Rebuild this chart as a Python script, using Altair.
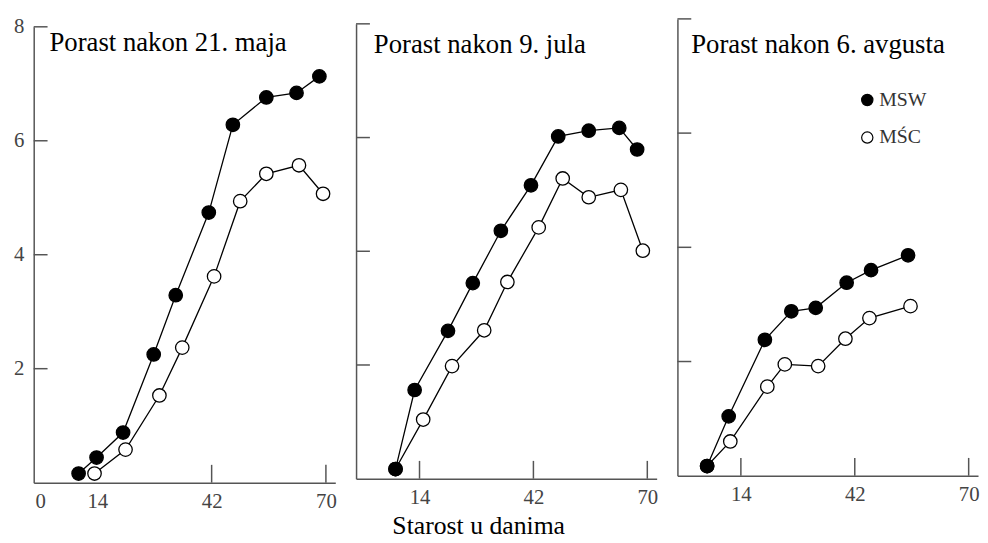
import altair as alt
import pandas as pd

# ---------------- data ----------------
SERIES = ["MSW", "MŚC"]

titles = ["Porast nakon 21. maja", "Porast nakon 9. jula", "Porast nakon 6. avgusta"]

# Panel 1 - 21. maja
p1_msw_days = [9.4, 13.8, 20.3, 27.8, 33.2, 41.3, 47.2, 55.4, 62.8, 68.4]
p1_msw_vals = [0.16, 0.44, 0.88, 2.25, 3.29, 4.74, 6.28, 6.76, 6.84, 7.13]
p1_msc_days = [13.3, 20.9, 29.2, 34.8, 42.6, 49.0, 55.4, 63.4, 69.3]
p1_msc_vals = [0.16, 0.58, 1.53, 2.37, 3.62, 4.94, 5.42, 5.57, 5.07]

# Panel 2 - 9. jula
p2_msw_days = [8.1, 12.8, 21.0, 27.1, 34.0, 41.4, 48.1, 55.6, 63.1, 67.5]
p2_msw_vals = [0.17, 1.56, 2.60, 3.44, 4.36, 5.16, 6.02, 6.12, 6.17, 5.79]
p2_msc_days = [8.1, 14.9, 22.0, 29.9, 35.6, 43.3, 49.2, 55.6, 63.5, 68.9]
p2_msc_vals = [0.17, 1.04, 1.98, 2.61, 3.46, 4.42, 5.28, 4.95, 5.08, 4.01]

# Panel 3 - 6. avgusta
p3_msw_days = [5.7, 11.0, 19.9, 26.4, 32.4, 40.0, 46.0, 55.1]
p3_msw_vals = [0.17, 1.04, 2.38, 2.88, 2.94, 3.38, 3.60, 3.86]
p3_msc_days = [5.7, 11.4, 20.5, 24.8, 33.0, 39.7, 45.6, 55.7]
p3_msc_vals = [0.17, 0.60, 1.56, 1.95, 1.92, 2.40, 2.76, 2.97]

y_ticks = [2, 4, 6, 8]
x_labels_first = [0, 14, 42, 70]
x_labels_other = [14, 42, 70]
x_ticks_first = [42, 70]
x_ticks_other = [14, 42, 70]

x_title = "Starost u danima"

# ---------------- styling / layout ----------------
FONT = "Liberation Serif"
W = [305, 304, 304]
H = 469
# vertical placement of each panel's 0..8 range inside the view (the scanned
# panels sit at slightly different heights)
R_TOP = [8, 5, 0]
R_BOT = [469, 465, 462]
TEXT_X = [16, 18, 14]
TEXT_Y = [32, 34, 34]
AX = "#555555"
LAB = "#444444"


def make_panel(i, title, msw_d, msw_v, msc_d, msc_v, first, legend):
    rows = []
    for d, v in zip(msc_d, msc_v):
        rows.append({"day": d, "value": v, "series": "MŚC"})
    for d, v in zip(msw_d, msw_v):
        rows.append({"day": d, "value": v, "series": "MSW"})
    df = pd.DataFrame(rows)

    xs = alt.Scale(domain=[-1.6, 72.3], nice=False, zero=False)
    ys = alt.Scale(domain=[0, 8], nice=False, zero=False, range=[R_BOT[i], R_TOP[i]])

    x_axis = alt.Axis(
        values=x_labels_first if first else x_labels_other,
        ticks=False, grid=False, title=None,
        labelFont=FONT, labelFontSize=21, labelColor=LAB,
        labelPadding=8, labelFlush=False, labelOverlap=False,
        domainColor=AX, domainWidth=1.5, offset=R_BOT[i] - H,
    )
    if first:
        y_axis = alt.Axis(
            values=y_ticks, ticks=False, grid=False, title=None,
            labelFont=FONT, labelFontSize=21, labelColor=LAB,
            labelPadding=10, minExtent=26, maxExtent=26,
            domainColor=AX, domainWidth=1.5,
        )
    else:
        y_axis = alt.Axis(
            values=y_ticks, ticks=False, labels=False, grid=False, title=None,
            minExtent=0, maxExtent=0,
            domainColor=AX, domainWidth=1.5,
        )

    X = alt.X("day:Q", scale=xs, axis=x_axis)
    Y = alt.Y("value:Q", scale=ys, axis=y_axis)

    base = alt.Chart(df)
    lines = base.mark_line(color="black", strokeWidth=1.3).encode(
        x=X, y=Y, detail="series:N"
    )
    if legend:
        leg = alt.Legend(
            orient="none", legendX=182, legendY=72, title=None,
            direction="vertical", symbolType="circle", symbolSize=130,
            symbolStrokeColor="black", symbolStrokeWidth=1.2, symbolOpacity=1,
            labelFont=FONT, labelFontSize=20, labelColor="#333333",
            labelOffset=2, rowPadding=18, padding=0,
        )
    else:
        leg = None
    points = base.mark_point(
        filled=True, stroke="black", strokeWidth=1.3, size=185, opacity=1
    ).encode(
        x=X, y=Y,
        fill=alt.Fill("series:N", scale=alt.Scale(domain=SERIES, range=["black", "white"]),
                      legend=leg),
    )

    ytick_df = pd.DataFrame({"tick": y_ticks})
    yt = alt.Chart(ytick_df).mark_rule(color=AX, strokeWidth=1.5).encode(
        y=alt.Y("tick:Q", scale=ys, axis=y_axis), x=alt.value(0), x2=alt.value(14)
    )
    xtick_df = pd.DataFrame({"tick": x_ticks_first if first else x_ticks_other})
    xt = alt.Chart(xtick_df).mark_rule(color=AX, strokeWidth=1.5).encode(
        x=alt.X("tick:Q", scale=xs, axis=x_axis),
        y=alt.value(R_BOT[i]), y2=alt.value(R_BOT[i] - 18),
    )

    label = alt.Chart(pd.DataFrame({"t": [title]})).mark_text(
        align="left", baseline="alphabetic", font=FONT, fontSize=27, color="black"
    ).encode(x=alt.value(TEXT_X[i]), y=alt.value(TEXT_Y[i]), text="t:N")

    return alt.layer(yt, xt, lines, points, label).properties(width=W[i], height=H)


p1 = make_panel(0, titles[0], p1_msw_days, p1_msw_vals, p1_msc_days, p1_msc_vals, True, False)
p2 = make_panel(1, titles[1], p2_msw_days, p2_msw_vals, p2_msc_days, p2_msc_vals, False, False)
p3 = make_panel(2, titles[2], p3_msw_days, p3_msw_vals, p3_msc_days, p3_msc_vals, False, True)

chart = (
    alt.hconcat(p1, p2, p3, spacing=18)
    .resolve_scale(fill="independent")
    .resolve_legend(fill="independent")
    .properties(
        padding={"left": 0, "top": 5, "right": 0, "bottom": 0},
        title=alt.TitleParams(
            x_title, orient="bottom", anchor="middle", font=FONT, fontSize=26,
            fontWeight="normal", color="black", offset=2, dx=-15,
        ),
    )
    .configure_view(stroke=None)
    .configure_legend(labelFontSize=20, labelFont=FONT)
)

chart.save("out.html", embed_options={"renderer": "svg", "actions": False})
